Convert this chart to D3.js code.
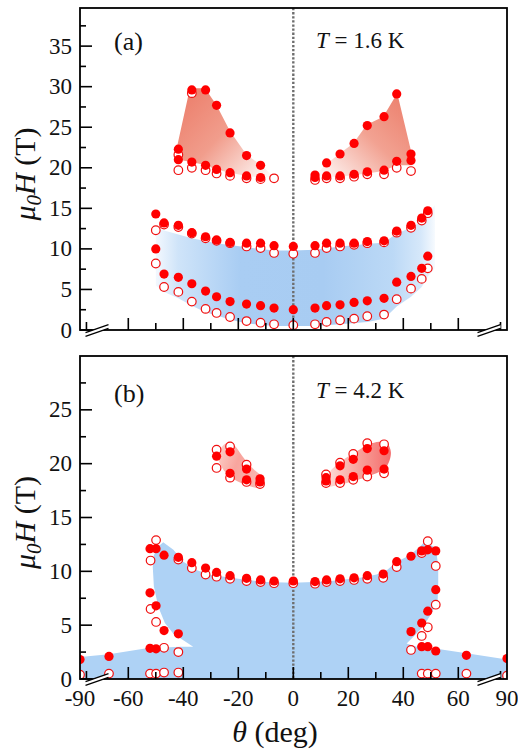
<!DOCTYPE html>
<html>
<head>
<meta charset="utf-8">
<script src="https://cdn.jsdelivr.net/npm/d3@7"></script>
<style>
  body { margin: 0; background: #fff; }
  text { font-family: "Liberation Serif", "Times New Roman", serif; fill: #111; }
</style>
</head>
<body>
<div id="chart"></div>
<script>
const width = 518;
const height = 752;

// ---- data (theta in deg, mu0H in T) ----
// panel (a), T = 1.6 K
const aRedFilled = [[-41.8,22.3],[-41.8,21.0],[-36.9,29.6],[-36.9,20.7],[-31.9,29.6],[-31.9,20.3],[-27.9,27.7],[-27.9,19.8],
  [-23.0,24.3],[-23.0,19.4],[-17.0,21.5],[-17.0,19.0],[-11.9,20.3],[-11.9,18.8],
  [7.9,19.1],[7.9,18.8],[12.1,20.6],[12.1,19.0],[17.0,21.7],[17.0,19.0],[22.1,23.0],[22.1,19.2],[26.9,25.2],[26.9,19.5],
  [33.0,26.3],[33.0,19.7],[37.6,29.1],[37.6,20.8],[42.8,21.7],[42.8,20.9]];
const aRedOpen = [[-41.8,21.6],[-41.8,19.7],[-36.9,29.2],[-36.9,20.0],[-31.9,19.7],[-27.9,19.3],[-23.0,19.0],[-17.0,18.7],
  [-11.9,18.6],[-7.0,18.7],[7.9,18.5],[12.1,18.7],[17.0,18.7],[22.1,18.9],[26.9,19.2],[33.0,19.2],[37.6,20.0],[42.8,19.6]];
const aBlueFilled = [[-50.0,14.3],[-47.0,13.2],[-41.8,12.9],[-36.9,12.0],[-31.9,11.5],[-27.9,11.1],[-23.0,10.8],[-17.0,10.7],
  [-11.9,10.7],[-7.0,10.4],[0,10.3],[7.9,10.4],[12.1,10.7],[17.0,10.7],[22.1,10.7],[26.9,10.9],[33.0,11.0],[37.6,12.2],
  [42.8,12.9],[46.7,13.8],[48.9,14.7],
  [-50.0,10.0],[-47.0,6.9],[-41.8,6.5],[-36.9,5.7],[-31.9,4.8],[-27.9,4.1],[-23.0,3.5],[-17.0,3.2],[-11.9,3.0],[-7.0,2.7],
  [0,2.5],[7.9,2.7],[12.1,3.0],[17.0,3.1],[22.1,3.4],[26.9,3.6],[33.0,3.9],[37.6,5.9],[42.8,6.6],[46.7,7.6],[48.9,9.1]];
const aBlueOpen = [[-50.0,12.3],[-47.0,13.0],[-41.8,12.7],[-36.9,11.9],[-31.9,11.3],[-27.9,11.0],[-23.0,10.7],[-17.0,10.3],
  [-11.9,10.1],[-7.0,9.5],[0,9.4],[7.9,9.5],[12.1,10.1],[17.0,10.3],[22.1,10.5],[26.9,10.7],[33.0,10.8],[37.6,12.0],
  [42.8,12.6],[46.7,13.5],[48.9,14.4],
  [-50.0,8.2],[-47.0,5.3],[-41.8,4.7],[-36.9,3.5],[-31.9,2.6],[-27.9,2.1],[-23.0,1.6],[-17.0,1.1],[-11.9,0.9],[-7.0,0.7],
  [0,0.6],[7.9,0.7],[12.1,1.0],[17.0,1.2],[22.1,1.4],[26.9,1.7],[33.0,1.9],[37.6,3.8],[42.8,5.1],[46.7,6.3],[48.9,7.6]];
// shaded phase regions (a)
const aRedLeftArea = [[-42.4,22.4],[-37.6,29.8],[-32.1,29.8],[-27.9,27.7],[-23.0,24.5],[-17.0,21.6],[-11.5,20.3],[-7.3,18.9],
  [-11.9,18.8],[-17.0,19.0],[-23.0,19.4],[-27.9,19.8],[-32.0,20.3],[-36.9,20.7],[-41.8,21.0]];
const aRedRightArea = [[7.9,19.0],[11.5,20.3],[17.0,21.8],[21.8,23.0],[26.7,25.3],[32.7,26.3],[37.8,29.2],[43.0,21.8],
  [43.0,20.3],[37.5,20.3],[32.7,19.6],[26.9,19.3],[22.1,19.1],[17.0,18.9],[12.1,18.9],[7.9,18.8]];
const aBlueArea = [[-50.0,12.5],[-47.3,12.3],[-36.9,11.3],[-27.9,10.7],[-17.0,10.2],[-7.0,9.8],[0,9.8],[7.9,9.9],[17.0,10.3],
  [26.9,10.6],[33.0,10.8],[37.6,11.9],[42.8,12.6],[46.7,13.4],[51.5,15.4],[51.5,7.6],[48.9,6.6],[46.7,5.3],[42.8,4.1],
  [37.6,2.9],[33.0,1.4],[26.9,1.0],[17.0,0.7],[7.9,0.5],[0,0.5],[-7.0,0.5],[-17.0,0.8],[-23.0,1.3],[-31.9,2.2],
  [-36.9,3.0],[-41.8,3.9],[-47.0,4.7],[-50.0,5.5]];

// panel (b), T = 4.2 K
const bRedFilled = [[-27.9,20.7],[-23.0,21.1],[-23.0,19.1],[-17.0,19.5],[-17.0,18.5],[-12.1,18.6],[-12.1,18.3],
  [11.9,18.7],[11.9,18.4],[17.0,19.8],[17.0,18.5],[21.8,20.4],[21.8,18.8],[26.9,21.4],[26.9,19.4],[33.0,21.2],[33.0,19.5]];
const bRedOpen = [[-27.9,21.3],[-27.9,19.6],[-23.0,21.6],[-23.0,18.7],[-17.0,19.9],[-17.0,18.3],[-12.1,18.1],
  [11.9,19.0],[11.9,18.2],[17.0,20.1],[17.0,18.2],[21.8,20.9],[21.8,18.5],[26.9,21.9],[26.9,18.8],[33.0,21.8],[33.0,19.1]];
const bBlueFilled = [[-52.1,12.1],[-49.9,12.1],[-47.0,11.5],[-41.8,11.3],[-36.9,10.8],[-31.9,10.3],[-27.9,9.9],[-23.0,9.6],
  [-17.0,9.35],[-11.9,9.2],[-7.0,9.1],[0,9.1],[7.9,9.05],[12.1,9.2],[17.0,9.3],[22.1,9.4],[26.9,9.6],[32.7,9.75],
  [37.6,10.9],[42.8,11.4],[46.7,11.9],[48.9,12.0],[51.8,11.9],
  [-52.1,8.0],[-49.9,6.8],[-47.0,4.5],[-41.8,4.2],[-52.1,2.85],[-49.9,2.8],[-90,1.8],[-72,2.1],
  [51.8,8.3],[48.9,6.3],[46.7,5.2],[42.8,4.4],[46.7,3.0],[48.9,3.0],[51.8,2.6],[65,2.2],[90,1.9]];
const bBlueOpen = [[-49.9,12.9],[-51.9,11.0],[-41.8,11.1],[-36.9,10.3],[-31.9,9.7],[-27.9,9.5],[-23.0,9.3],[-17.0,9.1],
  [-11.9,9.0],[-7.0,8.9],[0,8.9],[7.9,8.85],[12.1,9.0],[17.0,9.1],[22.1,9.2],[26.9,9.3],[32.7,9.4],[37.6,10.4],
  [46.7,11.7],[48.9,12.8],[51.8,10.5],
  [-51.9,6.5],[-49.9,5.3],[-47.0,2.9],[-41.8,2.5],[-52.1,0.5],[-49.9,0.5],[-47.0,0.6],[-41.8,0.6],[-90,0.4],[-72,0.5],
  [51.8,6.9],[48.9,4.8],[46.7,4.0],[42.8,2.7],[46.7,0.5],[48.9,0.5],[51.8,0.5],[65,0.5],[90,0.3]];
const bRedLeftArea = [[-27.2,21.0],[-24.5,21.9],[-21.5,21.7],[-18.5,20.7],[-14.5,19.5],[-10.6,18.6],[-11.5,17.8],
  [-14.5,17.8],[-19.0,18.2],[-23.5,18.9],[-26.5,19.9]];
const bRedRightArea = [[11.5,18.7],[14.5,19.6],[19.0,20.5],[24.0,21.3],[28.5,21.9],[33.5,22.0],[35.5,21.0],[33.5,19.6],
  [28.0,18.9],[22.0,18.4],[16.0,18.0],[12.0,17.9]];
const bBlueArea = [[-90,0],[90,0],[90,1.8],[65,2.4],[52.1,2.8],[44.9,3.0],[41.2,3.3],[43.6,3.9],[47.3,4.9],[50.3,6.1],
  [52.5,7.3],[52.7,8.9],[52.7,10.4],[52.1,11.7],[50.9,12.3],[47.9,12.8],[46.1,12.3],[42.4,11.5],[37.6,10.9],[34.0,10.1],
  [30.3,9.7],[24.3,9.4],[12.1,9.05],[0,8.95],[-10,9.0],[-20,9.3],[-25,9.5],[-30,9.65],[-35,10.1],[-40,10.9],[-43.6,12.0],
  [-47.3,12.7],[-49.1,12.3],[-50.7,11.5],[-51.1,10.4],[-50.7,8.6],[-49.1,6.7],[-46.7,5.2],[-43.6,4.2],[-36.4,3.0],
  [-41.0,3.0],[-53.3,2.85],[-72,2.3],[-90,2.05]];

// axes
const xTicksMajor = [-60, -40, -20, 0, 20, 40, 60];
const xTicksMinor = [-50, -30, -10, 10, 30, 50];
const xTicksBreak = [-86, 86];
const xTickLabels = [-90, -60, -40, -20, 0, 20, 40, 60, 90];

const svg = d3.select("#chart").append("svg")
  .attr("width", width)
  .attr("height", height);
const defs = svg.append("defs");

// broken axis: +-90 squeezed to the frame edges
const x = d3.scaleLinear()
  .domain([-90, -60, 60, 90])
  .range([80, 128.3, 458.3, 507]);
const left = 80, right = 507;

function addGradient(id, coords, stops, userSpace) {
  const gr = defs.append("linearGradient").attr("id", id)
    .attr("x1", coords[0]).attr("y1", coords[1]).attr("x2", coords[2]).attr("y2", coords[3]);
  if (userSpace) gr.attr("gradientUnits", "userSpaceOnUse");
  gr.selectAll("stop").data(stops).join("stop")
    .attr("offset", d => d[0]).attr("stop-color", d => d[1]);
}

addGradient("aRedL", [0, 0.15, 1, 1], [["0%", "#ec7f6c"], ["45%", "#f19d8c"], ["100%", "#ffffff"]]);
addGradient("aRedR", [1, 0.1, 0, 1], [["0%", "#ec7f6c"], ["45%", "#f2a292"], ["100%", "#ffffff"]]);
addGradient("aBlue", [x(-50), 0, x(51.5), 0], [["0%", "#f3f8fe"], ["8%", "#cfe4f9"], ["30%", "#a9cdf3"],
  ["60%", "#a8ccf2"], ["85%", "#bcd9f6"], ["95%", "#d6e8fa"], ["100%", "#f6fafe"]], true);
addGradient("bRedL", [0, 0, 1, 0.4], [["0%", "#fcd3cd"], ["50%", "#f8a59e"], ["100%", "#f9b5ae"]]);
addGradient("bRedR", [0, 0, 1, 0], [["0%", "#fde0dc"], ["55%", "#f89e97"], ["100%", "#f46c6c"]]);

const panels = [
  {
    id: "a", top: 8, bottom: 330, ymax: 39.7,
    yMajor: d3.range(0, 36, 5), yMinor: d3.range(2.5, 39, 5),
    label: "(a)", temp: "1.6 K", labelY: 50, tempY: 48,
    areas: [
      { pts: aBlueArea, fill: "url(#aBlue)", curve: d3.curveLinearClosed },
      { pts: aRedLeftArea, fill: "url(#aRedL)", curve: d3.curveLinearClosed },
      { pts: aRedRightArea, fill: "url(#aRedR)", curve: d3.curveLinearClosed }
    ],
    open: aRedOpen.concat(aBlueOpen), filled: aRedFilled.concat(aBlueFilled),
    xLabels: false
  },
  {
    id: "b", top: 356, bottom: 679, ymax: 30,
    yMajor: d3.range(0, 26, 5), yMinor: d3.range(2.5, 29, 5),
    label: "(b)", temp: "4.2 K", labelY: 402, tempY: 398,
    areas: [
      { pts: bBlueArea, fill: "#aed2f5", curve: d3.curveLinearClosed },
      { pts: bRedLeftArea, fill: "url(#bRedL)", curve: d3.curveCardinalClosed },
      { pts: bRedRightArea, fill: "url(#bRedR)", curve: d3.curveCardinalClosed }
    ],
    open: bRedOpen.concat(bBlueOpen), filled: bRedFilled.concat(bBlueFilled),
    xLabels: true
  }
];

panels.forEach(p => {
  const y = d3.scaleLinear().domain([0, p.ymax]).range([p.bottom, p.top]);
  const g = svg.append("g");

  defs.append("clipPath").attr("id", "clip-" + p.id)
    .append("rect")
    .attr("x", left).attr("y", p.top)
    .attr("width", right - left).attr("height", p.bottom - p.top);

  const plot = g.append("g").attr("clip-path", `url(#clip-${p.id})`);

  p.areas.forEach(a => {
    plot.append("path")
      .attr("d", d3.line().x(d => x(d[0])).y(d => y(d[1])).curve(a.curve)(a.pts))
      .attr("fill", a.fill);
  });

  // theta = 0 guide
  plot.append("line")
    .attr("x1", x(0)).attr("x2", x(0))
    .attr("y1", p.top).attr("y2", p.bottom)
    .attr("stroke", "#6e6e6e")
    .attr("stroke-width", 2.4)
    .attr("stroke-dasharray", "2.3,1.8");

  plot.selectAll("circle.open")
    .data(p.open)
    .join("circle")
    .attr("class", "open")
    .attr("cx", d => x(d[0])).attr("cy", d => y(d[1]))
    .attr("r", 4.3)
    .attr("fill", "#fff")
    .attr("stroke", "#f01010")
    .attr("stroke-width", 1.2);

  plot.selectAll("circle.filled")
    .data(p.filled)
    .join("circle")
    .attr("class", "filled")
    .attr("cx", d => x(d[0])).attr("cy", d => y(d[1]))
    .attr("r", 4.6)
    .attr("fill", "#ff0000");

  // frame
  g.append("rect")
    .attr("x", left).attr("y", p.top)
    .attr("width", right - left).attr("height", p.bottom - p.top)
    .attr("fill", "none")
    .attr("stroke", "#000")
    .attr("stroke-width", 1.8);

  // y ticks (inward)
  g.selectAll("line.ymaj").data(p.yMajor).join("line")
    .attr("x1", left).attr("x2", left + 12)
    .attr("y1", d => y(d)).attr("y2", d => y(d))
    .attr("stroke", "#000").attr("stroke-width", 1.6);
  g.selectAll("line.ymin").data(p.yMinor).join("line")
    .attr("x1", left).attr("x2", left + 6)
    .attr("y1", d => y(d)).attr("y2", d => y(d))
    .attr("stroke", "#000").attr("stroke-width", 1.6);
  g.selectAll("text.ytick").data(p.yMajor).join("text")
    .attr("x", 72).attr("y", d => y(d))
    .attr("dy", "0.33em")
    .attr("text-anchor", "end")
    .style("font-size", "23px")
    .text(d => d);

  // x ticks (inward)
  const xt = xTicksMajor.map(v => ({ v, len: 12 }))
    .concat(xTicksMinor.map(v => ({ v, len: 7 })))
    .concat(xTicksBreak.map(v => ({ v, len: 8 })));
  g.selectAll("line.xt").data(xt).join("line")
    .attr("x1", d => x(d.v)).attr("x2", d => x(d.v))
    .attr("y1", p.bottom).attr("y2", d => p.bottom - d.len)
    .attr("stroke", "#000").attr("stroke-width", 1.6);

  // axis break marks
  [97, 489].forEach(cx => {
    const cy = p.bottom + 0.5;
    const hw = 11.5, hh = 4, off = 1.8;
    g.append("polygon")
      .attr("points", [[cx - hw, cy + hh - off], [cx + hw, cy - hh - off], [cx + hw, cy - hh + off], [cx - hw, cy + hh + off]].join(" "))
      .attr("fill", "#fff");
    [-off, off].forEach(o => {
      g.append("line")
        .attr("x1", cx - hw).attr("y1", cy + hh + o)
        .attr("x2", cx + hw).attr("y2", cy - hh + o)
        .attr("stroke", "#000").attr("stroke-width", 1.3);
    });
  });

  if (p.xLabels) {
    g.selectAll("text.xtick").data(xTickLabels).join("text")
      .attr("x", d => x(d)).attr("y", 706)
      .attr("text-anchor", "middle")
      .style("font-size", "23px")
      .text(d => String(d));
  }

  // panel label and temperature
  g.append("text")
    .attr("x", 114).attr("y", p.labelY)
    .style("font-size", "26px")
    .text(p.label);
  const t = g.append("text")
    .attr("x", 316).attr("y", p.tempY)
    .style("font-size", "23px");
  t.append("tspan").style("font-style", "italic").text("T");
  t.append("tspan").text(" = " + p.temp);

  // y axis title
  const yl = g.append("text")
    .attr("transform", `translate(35,${(p.top + p.bottom) / 2 + 5}) rotate(-90)`)
    .attr("text-anchor", "middle")
    .style("font-size", "30px");
  yl.append("tspan").style("font-style", "italic").text("μ");
  yl.append("tspan").style("font-style", "italic").style("font-size", "21px").attr("dy", 6).text("0");
  yl.append("tspan").style("font-style", "italic").attr("dy", -6).text("H");
  yl.append("tspan").text(" (T)");
});

// x axis title
const xl = svg.append("text")
  .attr("x", 275).attr("y", 742)
  .attr("text-anchor", "middle")
  .style("font-size", "30px");
xl.append("tspan").style("font-style", "italic").text("θ");
xl.append("tspan").text(" (deg)");
</script>
</body>
</html>
